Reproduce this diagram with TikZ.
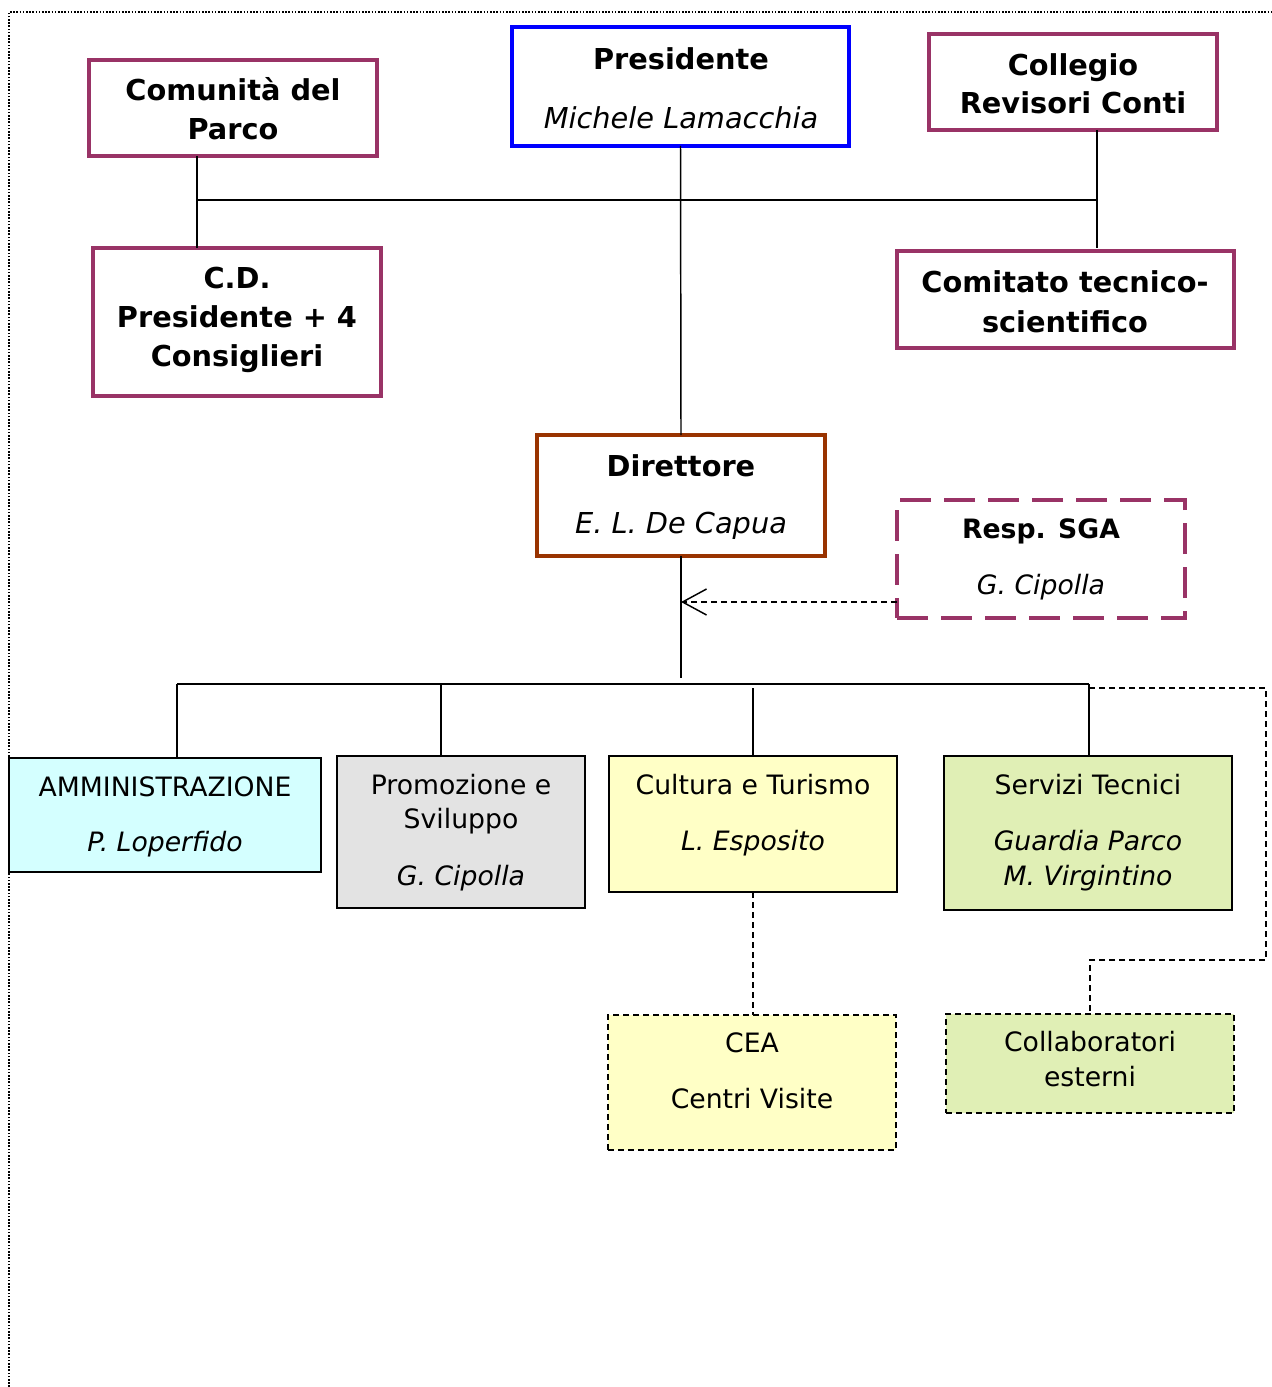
\documentclass[tikz,border=0pt]{standalone}
\usepackage{fontspec}
\setmainfont{DejaVu Sans}
\usetikzlibrary{fit,arrows.meta}
\definecolor{plum}{HTML}{993366}
\definecolor{brownred}{HTML}{993300}
\definecolor{fcyan}{HTML}{D4FFFF}
\definecolor{fgray}{HTML}{E3E3E3}
\definecolor{fyellow}{HTML}{FFFFC6}
\definecolor{fgreen}{HTML}{E0EFB5}
\tikzset{
  boxbase/.style={inner sep=0pt, outer sep=0pt, rectangle},
  topbox/.style={boxbase, draw=plum, line width=2.4pt},
  presbox/.style={boxbase, draw=blue, line width=2.4pt},
  dirbox/.style={boxbase, draw=brownred, line width=2.4pt},
  sgabox/.style={boxbase, draw=plum, line width=2.4pt, dash pattern=on 23pt off 10pt},
  unitbox/.style={boxbase, draw=black, line width=1.1pt},
  dashbox/.style={boxbase, draw=black, line width=1.1pt, dash pattern=on 4.5pt off 3pt},
  tB/.style={inner sep=0pt, anchor=base, font=\fontsize{21.6}{26}\selectfont\bfseries},
  tI/.style={inner sep=0pt, anchor=base, font=\fontsize{21.6}{26}\selectfont\itshape},
  sB/.style={inner sep=0pt, anchor=base, font=\fontsize{20}{24}\selectfont\bfseries},
  sR/.style={inner sep=0pt, anchor=base, font=\fontsize{20}{24}\selectfont},
  sI/.style={inner sep=0pt, anchor=base, font=\fontsize{20}{24}\selectfont\itshape},
  conn/.style={line width=1.1pt, draw=black},
  dconn/.style={line width=1.1pt, draw=black, dash pattern=on 4.5pt off 3pt},
}
\begin{document}
\begin{tikzpicture}[x=0.75pt,y=-0.75pt]
\useasboundingbox (0,0) rectangle (1271,1387);
% page border
\draw[line width=1.5pt, dash pattern=on 1.2pt off 1.2pt] (9,1387) -- (9,12) -- (1271,12);

% boxes
\node[topbox, fit={(89,60) (377,156)}] (com) {};
\node[presbox, fit={(512,27) (849,146)}] (pres) {};
\node[topbox, fit={(929,34) (1217,130)}] (col) {};
\node[topbox, fit={(93,248) (381,396)}] (cd) {};
\node[topbox, fit={(897,251) (1234,348)}] (cts) {};
\node[dirbox, fit={(537,435) (825,556)}] (dir) {};
\node[sgabox, fit={(897,500) (1185,618)}] (sga) {};
\node[unitbox, fill=fcyan, fit={(9,758) (321,872)}] (amm) {};
\node[unitbox, fill=fgray, fit={(337,756) (585,908)}] (pro) {};
\node[unitbox, fill=fyellow, fit={(609,756) (897,892)}] (cul) {};
\node[unitbox, fill=fgreen, fit={(944,756) (1232,910)}] (ser) {};
\node[dashbox, fill=fyellow, fit={(608,1015) (896,1150)}] (cea) {};
\node[dashbox, fill=fgreen, fit={(946,1014) (1234,1113)}] (clb) {};

% texts
\node[tB] (com1) at (233,101) {Comunità del};
\node[tB] (com2) at (233,140) {Parco};
\node[tB] (pres1) at (681,70) {Presidente};
\node[tI] (pres2) at (681,129) {Michele Lamacchia};
\node[tB] (col1) at (1073,76) {Collegio};
\node[tB] (col2) at (1073,114) {Revisori Conti};
\node[tB] (cd1) at (237,289) {C.D.};
\node[tB] (cd2) at (237,328) {Presidente + 4};
\node[tB] (cd3) at (237,366) {Consiglieri};
\node[tB] (cts1) at (1065,293) {Comitato tecnico-};
\node[tB] (cts2) at (1065,332) {scientifico};
\node[tB] (dir1) at (681,476) {Direttore};
\node[tI] (dir2) at (681,533) {E. L. De Capua};
\node[sB] (sga1) at (1041,538) {Resp. SGA};
\node[sI] (sga2) at (1041,594) {G. Cipolla};
\node[sR] (amm1) at (165,796) {AMMINISTRAZIONE};
\node[sI] (amm2) at (165,851) {P. Loperfido};
\node[sR] (pro1) at (461,794) {Promozione e};
\node[sR] (pro2) at (461,828) {Sviluppo};
\node[sI] (pro3) at (461,885) {G. Cipolla};
\node[sR] (cul1) at (753,794) {Cultura e Turismo};
\node[sI] (cul2) at (753,850) {L. Esposito};
\node[sR] (ser1) at (1088,794) {Servizi Tecnici};
\node[sI] (ser2) at (1088,850) {Guardia Parco};
\node[sI] (ser3) at (1088,885) {M. Virgintino};
\node[sR] (cea1) at (752,1052) {CEA};
\node[sR] (cea2) at (752,1108) {Centri Visite};
\node[sR] (clb1) at (1090,1051) {Collaboratori};
\node[sR] (clb2) at (1090,1086) {esterni};

% junction coordinates
\coordinate (jL) at (197,200);
\coordinate (jR) at (1097,200);
\coordinate (dend) at (681,678);
\coordinate (b1) at (177,684);
\coordinate (b2) at (441,684);
\coordinate (b3) at (753,688);
\coordinate (b4) at (1089,684);
\coordinate (arrT) at (681,602);
\coordinate (d1) at (1089,688);
\coordinate (d2) at (1266,688);
\coordinate (d3) at (1266,960);
\coordinate (d4) at (1090,960);

% upper connectors
\draw[conn] (jL |- com.south) -- (jL |- cd.north);
\draw[conn] (jL) -- (jR);
\draw[conn] (jR |- col.south) -- (jR |- 0,248);
\draw[conn] (pres.south) -- (dir.north);
\draw[conn] (dir.south) -- (dend);

% staff arrow
\draw[dconn, -{Straight Barb[length=18pt,width=19.5pt,line width=1.1pt]}] (arrT -| sga.west) -- (arrT);

% lower bus
\draw[conn] (b1) -- (b4);
\draw[conn] (b1) -- (b1 |- amm.north);
\draw[conn] (b2) -- (b2 |- pro.north);
\draw[conn] (b3) -- (b3 |- cul.north);
\draw[conn] (b4) -- (b4 |- ser.north);

% dashed links
\draw[dconn] (cul.south) -- (cul.south |- cea.north);
\draw[dconn] (d1) -- (d2) -- (d3) -- (d4) -- (d4 |- clb.north);
\end{tikzpicture}
\end{document}
